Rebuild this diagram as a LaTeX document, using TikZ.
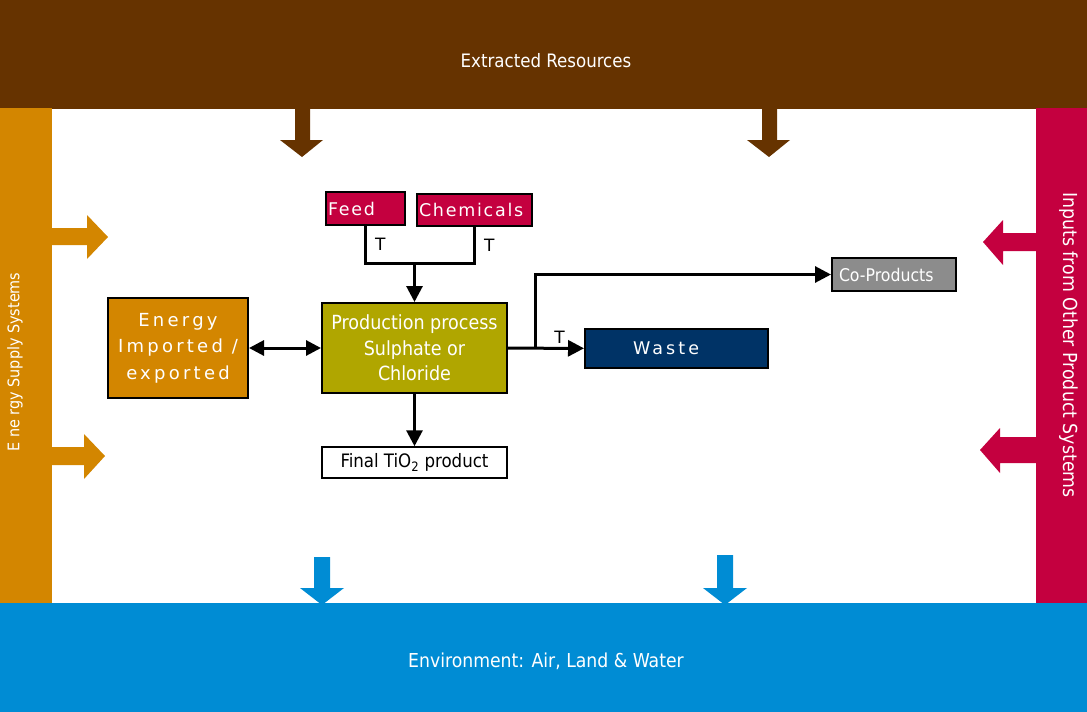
\documentclass[tikz,border=0pt]{standalone}
\usepackage{fontspec}
\setmainfont{DejaVu Sans Condensed}
\newfontfamily\wideface[LetterSpace=18]{DejaVu Sans}
\newfontfamily\tagface[LetterSpace=10]{DejaVu Sans}
\newfontfamily\plainface{DejaVu Sans}
\usepackage{xcolor}
\usetikzlibrary{arrows.meta}

\definecolor{resbrown}{HTML}{663300}
\definecolor{energyorange}{HTML}{D38600}
\definecolor{inputred}{HTML}{C4003F}
\definecolor{envblue}{HTML}{008CD4}
\definecolor{procolive}{HTML}{B0A600}
\definecolor{wastenavy}{HTML}{003366}
\definecolor{cogray}{HTML}{8C8C8C}

\begin{document}
\begin{tikzpicture}[x=1pt, y=-1pt]
% Define styles
\tikzstyle{bandtext} = [text=white, font=\fontsize{18.5}{22}\selectfont]
\tikzstyle{inbox} = [rectangle, draw=black, line width=2pt, text=white, inner sep=0pt]
\tikzstyle{tag} = [text=black, inner sep=2pt, font=\plainface\fontsize{17}{20}\selectfont]
\tikzstyle{line} = [line width=3pt]
\tikzstyle{arrow} = [line width=3pt, -{Triangle[length=16pt,width=16pt]}]
\tikzstyle{twoway} = [line width=3pt, {Triangle[length=15pt,width=15pt]}-{Triangle[length=15pt,width=15pt]}]

\useasboundingbox (0,0) rectangle (1087,712);

% Surrounding systems
\fill[resbrown] (0,0) rectangle (1087,109);
\fill[energyorange] (0,108) rectangle (52,604);
\fill[inputred] (1036,108) rectangle (1087,604);
\fill[envblue] (0,603) rectangle (1087,712);

\node (extract) [bandtext] at (546,61) {Extracted Resources};
\node (environ) [bandtext, font=\fontsize{19.2}{22}\selectfont] at (546,661) {Environment: Air, Land \& Water};
\node (energysys) [bandtext, rotate=90, font=\fontsize{16}{20}\selectfont] at (15,362) {E ne rgy Supply Systems};
\node (othersys) [bandtext, rotate=-90, font=\fontsize{19.3}{22}\selectfont] at (1069,345) {Inputs from Other Product Systems};

% Block arrows
\fill[resbrown] (295,105) -- (310,105) -- (310,140) -- (323,140) -- (302,157) -- (280,140) -- (295,140) -- cycle;
\fill[resbrown] (762,105) -- (777,105) -- (777,140) -- (790,140) -- (769,157) -- (747,140) -- (762,140) -- cycle;
\fill[energyorange] (50,228) -- (87,228) -- (87,215) -- (108,237) -- (87,259) -- (87,245) -- (50,245) -- cycle;
\fill[energyorange] (50,447) -- (84,447) -- (84,434) -- (105,456) -- (84,479) -- (84,465) -- (50,465) -- cycle;
\fill[inputred] (1038,233) -- (1003,233) -- (1003,220) -- (983,242) -- (1003,265) -- (1003,251) -- (1038,251) -- cycle;
\fill[inputred] (1038,437) -- (1000,437) -- (1000,428) -- (980,450) -- (1000,473) -- (1000,463) -- (1038,463) -- cycle;
\fill[envblue] (314,557) -- (330,557) -- (330,588) -- (344,588) -- (322,605) -- (300,588) -- (314,588) -- cycle;
\fill[envblue] (717,555) -- (733,555) -- (733,588) -- (747,588) -- (725,605) -- (703,588) -- (717,588) -- cycle;

% Place nodes
\node (feed) [inbox, fill=inputred, minimum height=33pt, text width=75pt, inner xsep=2pt, align=left, font=\tagface\fontsize{17.5}{20}\selectfont] at (365.5,208.5) {Feed};
\node (chem) [inbox, fill=inputred, minimum height=32pt, text width=111pt, inner xsep=2pt, align=left, font=\tagface\fontsize{17.5}{20}\selectfont] at (474.5,210) {Chemicals};
\node (prod) [inbox, fill=procolive, minimum width=185pt, minimum height=90pt, align=center, font=\fontsize{19.5}{25.5}\selectfont] at (414.5,348) {Production process\\Sulphate or\\Chloride};
\node (final) [inbox, fill=white, text=black, line width=1.5pt, minimum width=185pt, minimum height=31pt, font=\fontsize{18.5}{20}\selectfont] at (414.5,462.5) {Final TiO\textsubscript{2} product};
\node (energy) [inbox, fill=energyorange, minimum width=140pt, minimum height=100pt, align=center, font=\wideface\fontsize{18}{26.5}\selectfont] at (178,348) {Energy\\Imported /\\exported};
\node (waste) [inbox, fill=wastenavy, minimum height=39pt, text width=87pt, inner xsep=48pt, align=left, font=\wideface\fontsize{17.5}{20}\selectfont] at (676.5,348.5) {Waste};
\node (coprod) [inbox, fill=cogray, minimum height=33pt, text width=110pt, inner xsep=7pt, align=left, font=\fontsize{17.5}{20}\selectfont] at (894,274.5) {Co-Products};

\coordinate (join) at (414.5,263);
\coordinate (branch) at (535,348);

% Draw arrows
\draw [line] (feed) |- node[tag, pos=0.25, right, xshift=6pt] {T} (join);
\draw [line] (join) -| node[tag, pos=0.75, right, xshift=6pt] {T} (chem);
\draw [arrow] (join) -- (prod);
\draw [twoway] (energy) -- (prod);
\draw [arrow] (prod) -- (final);
\draw [arrow] (prod) -- node[tag, pos=0.68, above, yshift=1pt] {T} (waste);
\draw [arrow] (branch) |- (coprod);
\end{tikzpicture}
\end{document}
